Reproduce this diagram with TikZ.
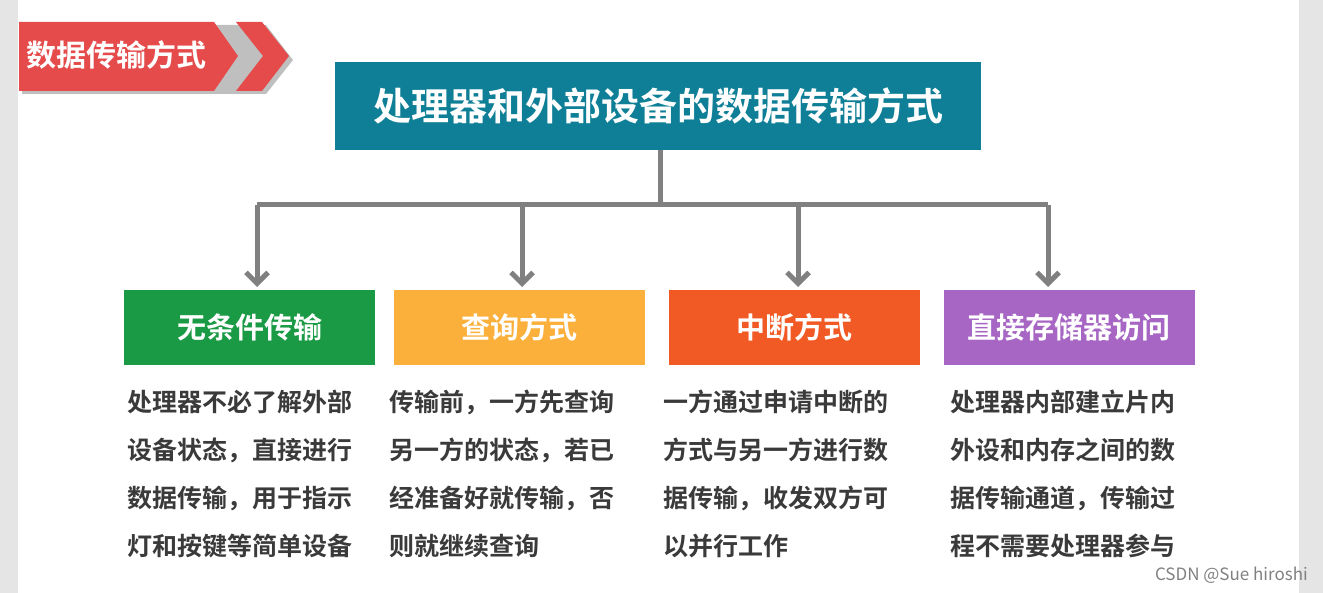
\documentclass[tikz,border=0pt]{standalone}
\usepackage{fontspec}
\setmainfont{Noto Sans CJK SC}[BoldFont={Noto Sans CJK SC Bold}]
\usetikzlibrary{arrows.meta}
\definecolor{teal1}{HTML}{0E7F96}
\definecolor{grn}{HTML}{1A9A45}
\definecolor{org}{HTML}{FBB03B}
\definecolor{red1}{HTML}{F15A24}
\definecolor{pur}{HTML}{A766C4}
\definecolor{badge}{HTML}{E54B4B}
\definecolor{txt}{HTML}{3A3A3A}
\definecolor{ln}{HTML}{808080}
\begin{document}
\begin{tikzpicture}[x=1pt,y=-1pt,
  hbox/.style={minimum width=251pt,minimum height=75pt,inner sep=0pt,text=white,font=\fontsize{29}{29}\selectfont\bfseries},
  body/.style={anchor=north west,inner sep=0pt,align=left,text=txt,font=\fontsize{25}{48}\selectfont\bfseries},
  conn/.style={ln,line width=5pt},
  arr/.style={conn,-{Straight Barb[length=11pt,width=22pt,line width=5pt]}}]
\useasboundingbox (0,0) rectangle (1323,593);
\fill[gray!20] (0,0) rectangle (18,593);
\fill[gray!20] (1299,0) rectangle (1323,593);
% badge
\fill[gray!50] (22,25) -- (241,25) -- (268,60) -- (241,94) -- (22,94) -- cycle;
\fill[gray!50] (240,25) -- (266,25) -- (293,60) -- (266,94) -- (240,94) -- (267,60) -- cycle;
\fill[badge] (19,22) -- (214,22) -- (238,56) -- (214,91) -- (19,91) -- cycle;
\fill[badge] (236,22) -- (262,22) -- (289,56) -- (262,91) -- (236,91) -- (263,56) -- cycle;
\node[text=white,font=\fontsize{30}{30}\selectfont\bfseries,anchor=west,inner sep=0pt] (bt) at (26,55) {数据传输方式};
% title
\node[fill=teal1,minimum width=646pt,minimum height=88pt,inner sep=0pt,text=white,font=\fontsize{38}{38}\selectfont\bfseries] (t) at (658,106) {处理器和外部设备的数据传输方式};
\node[hbox,fill=grn] (a) at (249.5,327.5) {无条件传输};
\node[hbox,fill=org] (b) at (519.5,327.5) {查询方式};
\node[hbox,fill=red1] (c) at (794.5,327.5) {中断方式};
\node[hbox,fill=pur] (d) at (1069,327.5) {直接存储器访问};
\coordinate (j) at (660,205);
\coordinate (l) at (257,205);
\coordinate (r) at (1048,205);
\draw[conn] (t.south -| j) -- (j);
\draw[conn] (l) -- (r);
\draw[arr] (l) -- (257,287);
\draw[arr] (522,205) -- (522,287);
\draw[arr] (798,205) -- (798,287);
\draw[arr] (r) -- (1048,287);
\node[body] (pa) at (127,390) {处理器不必了解外部\\设备状态，直接进行\\数据传输，用于指示\\灯和按键等简单设备};
\node[body] (pb) at (389,390) {传输前，一方先查询\\另一方的状态，若已\\经准备好就传输，否\\则就继续查询};
\node[body] (pc) at (663,390) {一方通过申请中断的\\方式与另一方进行数\\据传输，收发双方可\\以并行工作};
\node[body] (pd) at (950,390) {处理器内部建立片内\\外设和内存之间的数\\据传输通道，传输过\\程不需要处理器参与};
\node[text=gray,font=\fontsize{17}{17}\selectfont,anchor=east,inner sep=0pt] (w) at (1308,575) {CSDN @Sue hiroshi};
\end{tikzpicture}
\end{document}
